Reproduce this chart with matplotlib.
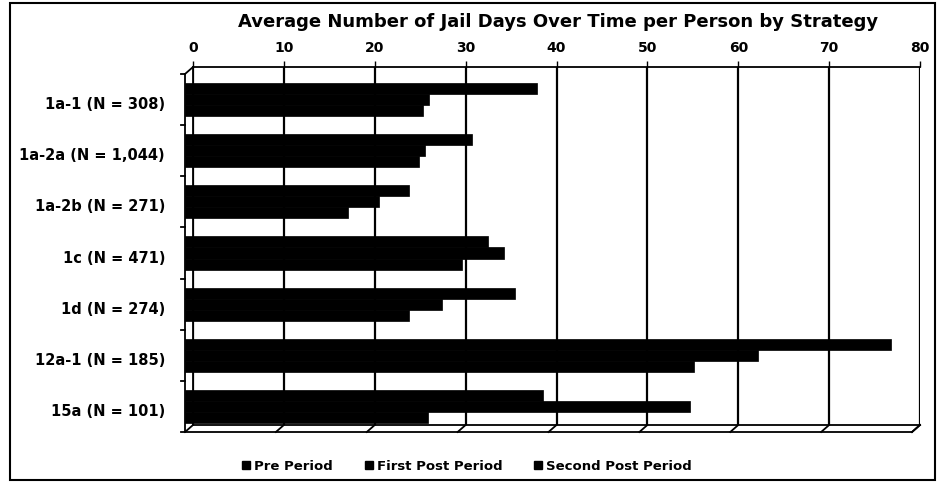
import matplotlib
matplotlib.use("Agg")
import matplotlib.pyplot as plt
import matplotlib.transforms as mtransforms
from matplotlib.patches import Rectangle
from matplotlib.lines import Line2D
import numpy as np

strategies = ["1a-1 (N = 308)", "1a-2a (N = 1,044)", "1a-2b (N = 271)", "1c (N = 471)",
              "1d (N = 274)", "12a-1 (N = 185)", "15a (N = 101)"]
series_names = ["Pre Period", "First Post Period", "Second Post Period"]
pre_period = [38.7, 31.6, 24.6, 33.3, 36.3, 77.7, 39.4]
first_post = [26.8, 26.4, 21.3, 35.1, 28.3, 63.0, 55.6]
second_post = [26.2, 25.8, 17.9, 30.5, 24.6, 56.0, 26.7]
x_ticks = [0, 10, 20, 30, 40, 50, 60, 70, 80]

plt.rcParams['font.family'] = ['DejaVu Sans']
plt.rcParams['font.weight'] = 'bold'

W, H = 938, 483
fig = plt.figure(figsize=(W / 100, H / 100), dpi=100)

# back wall of the pseudo-3D plot area (pixel box converted to figure fractions)
left, right, top, bottom = 193, 920, 67, 425
ax = fig.add_axes([left / W, 1 - bottom / H, (right - left) / W, (bottom - top) / H])
ax.set_xlim(0, 80)
ax.set_ylim(len(strategies) - 0.5, -0.5)

# depth of the 3D effect: front face sits 8px left and 7px down
dx, dy = 8, 7
front = mtransforms.ScaledTranslation(-dx / 100, -dy / 100, fig.dpi_scale_trans)

y = np.arange(len(strategies))
bh = 0.216
for i, vals in enumerate([pre_period, first_post, second_post]):
    bars = ax.barh(y + (i - 1) * bh, vals, height=bh, color='black', edgecolor='black',
                   linewidth=0.5, zorder=3, label=series_names[i])
    for b in bars:
        b.set_transform(ax.transData + front)
        b.set_clip_on(False)

ax.xaxis.tick_top()
ax.set_xticks(x_ticks)
ax.set_xticklabels([str(t) for t in x_ticks], fontsize=10, fontweight='bold')
ax.tick_params(axis='x', length=4, width=1, pad=5, colors='black')
ax.grid(axis='x', color='black', linewidth=1.6, zorder=1)

# category labels sit against the front left wall
ax.set_yticks([])
label_tr = mtransforms.blended_transform_factory(ax.transAxes, ax.transData) + front
for yi, name in zip(y, strategies):
    ax.text(-20 / (right - left), yi + 0.1, name, transform=label_tr, ha='right', va='center',
            fontsize=10.5, fontweight='bold', clip_on=False)

for s in ['left', 'top', 'bottom', 'right']:
    ax.spines[s].set_linewidth(1.3)
ax.spines['right'].set_visible(False)

# floor, left wall and corner edges drawn in pixel space
def px(xp, yp):
    return (xp / W, 1 - yp / H)

edge_kw = dict(color='black', linewidth=1.3, transform=fig.transFigure, clip_on=False)
fig.add_artist(Line2D(*zip(px(left - dx, top + dy), px(left - dx, bottom + dy)), **edge_kw))
fig.add_artist(Line2D(*zip(px(left - dx, top + dy), px(left, top)), **edge_kw))
fig.add_artist(Line2D(*zip(px(left - dx, bottom + dy), px(right - dx, bottom + dy)), **edge_kw))
fig.add_artist(Line2D(*zip(px(right - dx, bottom + dy), px(right, bottom)), **edge_kw))
for t in x_ticks:
    xp = left + (right - left) * t / 80
    fig.add_artist(Line2D(*zip(px(xp, bottom), px(xp - dx, bottom + dy)), **edge_kw))
# short ticks on the front left wall between categories
for k in range(len(strategies) + 1):
    yp = top + dy + (bottom - top) * k / len(strategies)
    fig.add_artist(Line2D(*zip(px(left - dx - 4, yp), px(left - dx, yp)), **edge_kw))

fig.text(558 / W, 1 - 22 / H, "Average Number of Jail Days Over Time per Person by Strategy",
         ha='center', va='center', fontsize=13, fontweight='bold')

handles = [Rectangle((0, 0), 1, 1, color='black') for _ in series_names]
fig.legend(handles, series_names, loc='center', bbox_to_anchor=(467 / W, 1 - 466 / H),
           ncol=3, frameon=False, handlelength=0.6, handleheight=0.6,
           handletextpad=0.3, columnspacing=2.4, prop={'weight': 'bold', 'size': 9.5})

# outer chart border
fig.patches.append(Rectangle(px(10, 480), 925 / W, 477 / H, transform=fig.transFigure,
                             fill=False, edgecolor='black', linewidth=1.5))

fig.savefig("out.png", dpi=100)
